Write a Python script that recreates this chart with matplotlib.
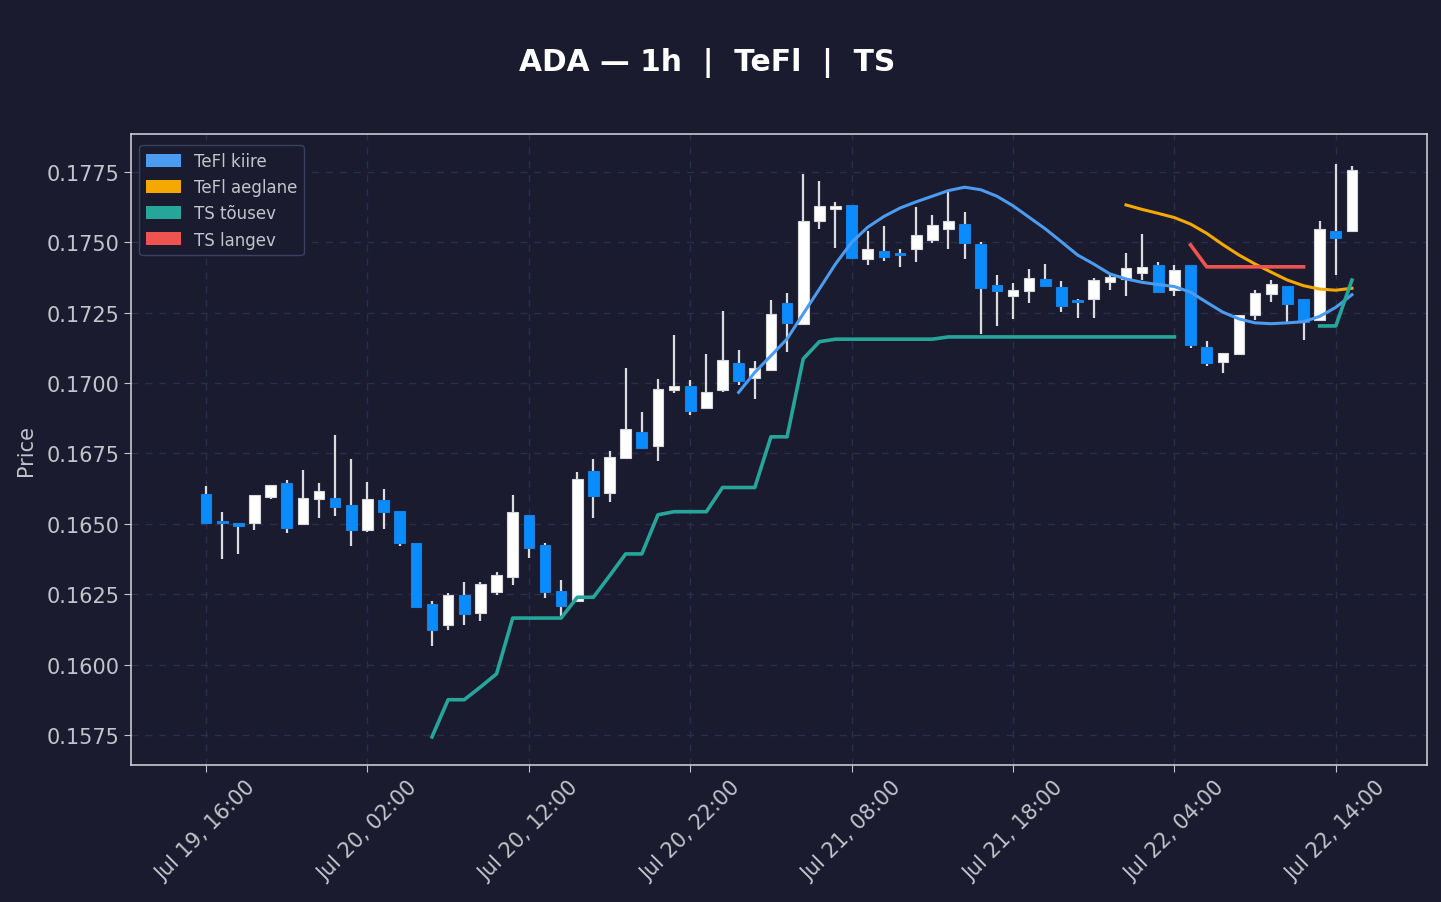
import matplotlib
matplotlib.use("Agg")
import matplotlib.pyplot as plt
import matplotlib.dates as mdates
from matplotlib.patches import Patch
from matplotlib.ticker import FormatStrFormatter
import numpy as np
import pandas as pd
from math import nan

# hourly ADA candles, Jul 19 16:00 -> Jul 22 15:00
startTime = "2024-07-19 16:00"

opens = [0.16605, 0.16509, 0.16502, 0.16504, 0.16597, 0.16644, 0.16501, 0.16587, 0.16591, 0.16566,
         0.16477, 0.16584, 0.16545, 0.16431, 0.16214, 0.16142, 0.16246, 0.16184, 0.16259, 0.16310,
         0.16530, 0.16424, 0.16260, 0.16225, 0.16687, 0.16609, 0.16733, 0.16825, 0.16776, 0.16975,
         0.16989, 0.16911, 0.16975, 0.17070, 0.17019, 0.17048, 0.17284, 0.17209, 0.17575, 0.17620,
         0.17632, 0.17442, 0.17468, 0.17461, 0.17475, 0.17510, 0.17549, 0.17564, 0.17493, 0.17348,
         0.17308, 0.17326, 0.17369, 0.17340, 0.17294, 0.17298, 0.17360, 0.17370, 0.17390, 0.17419,
         0.17330, 0.17419, 0.17127, 0.17074, 0.17102, 0.17241, 0.17316, 0.17344, 0.17298, 0.17223,
         0.17539, 0.17539]
highs = [0.16635, 0.16542, 0.16502, 0.16602, 0.16637, 0.16656, 0.16691, 0.16645, 0.16816, 0.16729,
         0.16649, 0.16624, 0.16545, 0.16431, 0.16226, 0.16254, 0.16294, 0.16294, 0.16329, 0.16603,
         0.16530, 0.16431, 0.16301, 0.16684, 0.16730, 0.16758, 0.17054, 0.16897, 0.17015, 0.17171,
         0.17012, 0.17103, 0.17255, 0.17117, 0.17080, 0.17295, 0.17320, 0.17743, 0.17718, 0.17643,
         0.17632, 0.17540, 0.17558, 0.17476, 0.17625, 0.17597, 0.17678, 0.17608, 0.17501, 0.17384,
         0.17356, 0.17405, 0.17422, 0.17362, 0.17298, 0.17373, 0.17384, 0.17462, 0.17530, 0.17430,
         0.17420, 0.17419, 0.17149, 0.17106, 0.17241, 0.17330, 0.17366, 0.17344, 0.17298, 0.17576,
         0.17778, 0.17771]
lows = [0.16500, 0.16376, 0.16391, 0.16479, 0.16588, 0.16469, 0.16501, 0.16522, 0.16526, 0.16422,
        0.16472, 0.16483, 0.16422, 0.16202, 0.16067, 0.16121, 0.16142, 0.16156, 0.16248, 0.16284,
        0.16380, 0.16238, 0.16174, 0.16222, 0.16521, 0.16579, 0.16733, 0.16768, 0.16724, 0.16966,
        0.16887, 0.16911, 0.16967, 0.16994, 0.16944, 0.17048, 0.17112, 0.17209, 0.17548, 0.17480,
        0.17446, 0.17420, 0.17434, 0.17414, 0.17431, 0.17499, 0.17477, 0.17442, 0.17176, 0.17204,
        0.17229, 0.17286, 0.17344, 0.17254, 0.17232, 0.17232, 0.17332, 0.17311, 0.17367, 0.17323,
        0.17311, 0.17124, 0.17060, 0.17035, 0.17102, 0.17225, 0.17289, 0.17216, 0.17154, 0.17223,
        0.17385, 0.17539]
closes = [0.16504, 0.16502, 0.16491, 0.16602, 0.16637, 0.16486, 0.16591, 0.16616, 0.16559, 0.16477,
          0.16587, 0.16541, 0.16431, 0.16206, 0.16121, 0.16246, 0.16181, 0.16285, 0.16317, 0.16541,
          0.16415, 0.16257, 0.16209, 0.16658, 0.16598, 0.16737, 0.16836, 0.16770, 0.16978, 0.16989,
          0.16902, 0.16967, 0.17081, 0.17006, 0.17053, 0.17245, 0.17215, 0.17575, 0.17628, 0.17630,
          0.17446, 0.17476, 0.17449, 0.17454, 0.17525, 0.17561, 0.17575, 0.17497, 0.17337, 0.17326,
          0.17330, 0.17372, 0.17344, 0.17273, 0.17289, 0.17365, 0.17376, 0.17408, 0.17411, 0.17323,
          0.17401, 0.17134, 0.17070, 0.17106, 0.17241, 0.17321, 0.17351, 0.17280, 0.17218, 0.17546,
          0.17514, 0.17756]

# TeFl fast / slow lines
teflFast = [nan] * 33 + [
    0.16967, 0.17038, 0.17097, 0.17157, 0.17246, 0.17334, 0.17423, 0.17500, 0.17554, 0.17592,
    0.17622, 0.17644, 0.17664, 0.17684, 0.17696, 0.17687, 0.17664, 0.17630, 0.17589, 0.17548,
    0.17502, 0.17455, 0.17423, 0.17388, 0.17370, 0.17358, 0.17350, 0.17343, 0.17323, 0.17287,
    0.17252, 0.17228, 0.17214, 0.17211, 0.17214, 0.17218, 0.17237, 0.17269, 0.17314]
teflSlow = [nan] * 57 + [
    0.17633, 0.17617, 0.17603, 0.17588, 0.17565, 0.17532, 0.17492, 0.17455, 0.17423, 0.17394,
    0.17366, 0.17346, 0.17334, 0.17330, 0.17337]

# TS trailing stop, rising / falling
tsUp = [nan] * 14 + [
    0.15743, 0.15875, 0.15875, 0.15920, 0.15967, 0.16165, 0.16165, 0.16165, 0.16165, 0.16239,
    0.16239, 0.16315, 0.16393, 0.16393, 0.16532, 0.16543, 0.16543, 0.16543, 0.16629, 0.16629,
    0.16629, 0.16809, 0.16809, 0.17086, 0.17147, 0.17156, 0.17156, 0.17156, 0.17156, 0.17156,
    0.17156, 0.17156, 0.17164, 0.17164, 0.17164, 0.17164, 0.17164, 0.17164, 0.17164, 0.17164,
    0.17164, 0.17164, 0.17164, 0.17164, 0.17164, 0.17164, 0.17164] + [nan] * 8 + [
    0.17203, 0.17203, 0.17366]
tsDown = [nan] * 61 + [0.17491, 0.17413, 0.17413, 0.17413, 0.17413, 0.17413, 0.17413, 0.17413] + [nan] * 3

yTicks = [0.1575, 0.1600, 0.1625, 0.1650, 0.1675, 0.1700, 0.1725, 0.1750, 0.1775]

BG = "#1a1b2e"
GRID = "#2c2f4c"
TXT = "#c4c4cc"
UPCOL = "#ffffff"
DOWNCOL = "#0a8cff"
FASTCOL = "#4b9bf0"
SLOWCOL = "#f5a800"
TSUPCOL = "#26a69a"
TSDOWNCOL = "#ef5350"


def plot_candles(ax, x, o, h, l, c):
    """
    Draws simple candles: wick as a vline, body as a bar
    """
    o, h, l, c = map(np.asarray, (o, h, l, c))
    up = c >= o
    bodyW = 0.66 / 24.
    ax.vlines(x, l, h, color="#dcdce0", linewidth=1.6, zorder=2)
    faces = [UPCOL if u else DOWNCOL for u in up]
    edges = ["#d8d8dc" if u else "#1a7fe0" for u in up]
    ax.bar(x, np.maximum(np.abs(c - o), 0.00004), bottom=np.minimum(o, c), width=bodyW,
           color=faces, edgecolor=edges, linewidth=0.8, align="center", zorder=3)
#### End of function plot_candles


if __name__ == "__main__":
    times = pd.date_range(startTime, periods=len(opens), freq="h")
    x = mdates.date2num(times.to_pydatetime())

    fig = plt.figure(figsize=(14.41, 9.03), dpi=100, facecolor=BG)
    ax = fig.add_axes([131 / 1441., 1 - 766 / 903., 1296 / 1441., 631 / 903.])
    ax.set_facecolor(BG)

    plot_candles(ax, x, opens, highs, lows, closes)

    ax.plot(x, teflFast, color=FASTCOL, linewidth=2.2, zorder=4)
    ax.plot(x, teflSlow, color=SLOWCOL, linewidth=2.2, zorder=4)
    ax.plot(x, tsUp, color=TSUPCOL, linewidth=2.6, zorder=4)
    ax.plot(x, tsDown, color=TSDOWNCOL, linewidth=2.6, zorder=4)

    # x axis: every 10 hours from the first candle
    pad = 4.65 / 24.
    ax.set_xlim(x[0] - pad, x[-1] + pad)
    tickTimes = pd.date_range(times[0], times[-1], freq="10h")
    ax.set_xticks(mdates.date2num(tickTimes.to_pydatetime()))
    ax.xaxis.set_major_formatter(mdates.DateFormatter("%b %d, %H:%M"))
    plt.setp(ax.get_xticklabels(), rotation=45, ha="center")

    ax.set_ylim(0.15643, 0.17885)
    ax.set_yticks(yTicks)
    ax.yaxis.set_major_formatter(FormatStrFormatter("%.4f"))
    ax.set_ylabel("Price", color=TXT, fontsize=15, labelpad=7)

    ax.tick_params(colors=TXT, labelsize=15, length=5)
    for sp in ax.spines.values():
        sp.set_color("#d8d8e0")
        sp.set_linewidth(1.1)
    ax.grid(True, linestyle=(0, (5, 5)), color=GRID, linewidth=1.0, zorder=0)
    ax.set_axisbelow(True)

    handles = [Patch(facecolor=FASTCOL, label="TeFl kiire"),
               Patch(facecolor=SLOWCOL, label="TeFl aeglane"),
               Patch(facecolor=TSUPCOL, label="TS tõusev"),
               Patch(facecolor=TSDOWNCOL, label="TS langev")]
    leg = ax.legend(handles=handles, loc="upper left", bbox_to_anchor=(0.0, 1 - 3 / 631.),
                    fontsize=12, facecolor=BG, edgecolor="#3c3f60", labelcolor=TXT,
                    handlelength=2.1, handleheight=0.8, handletextpad=0.75, framealpha=1.0,
                    borderpad=0.4, labelspacing=0.49, borderaxespad=0.5)

    fig.text(707 / 1441., 1 - 63 / 903., "ADA — 1h  |  TeFl  |  TS", color="white", fontsize=21.4,
             fontweight="bold", ha="center", va="center")

    fig.savefig("out.png", dpi=100, facecolor=BG)
